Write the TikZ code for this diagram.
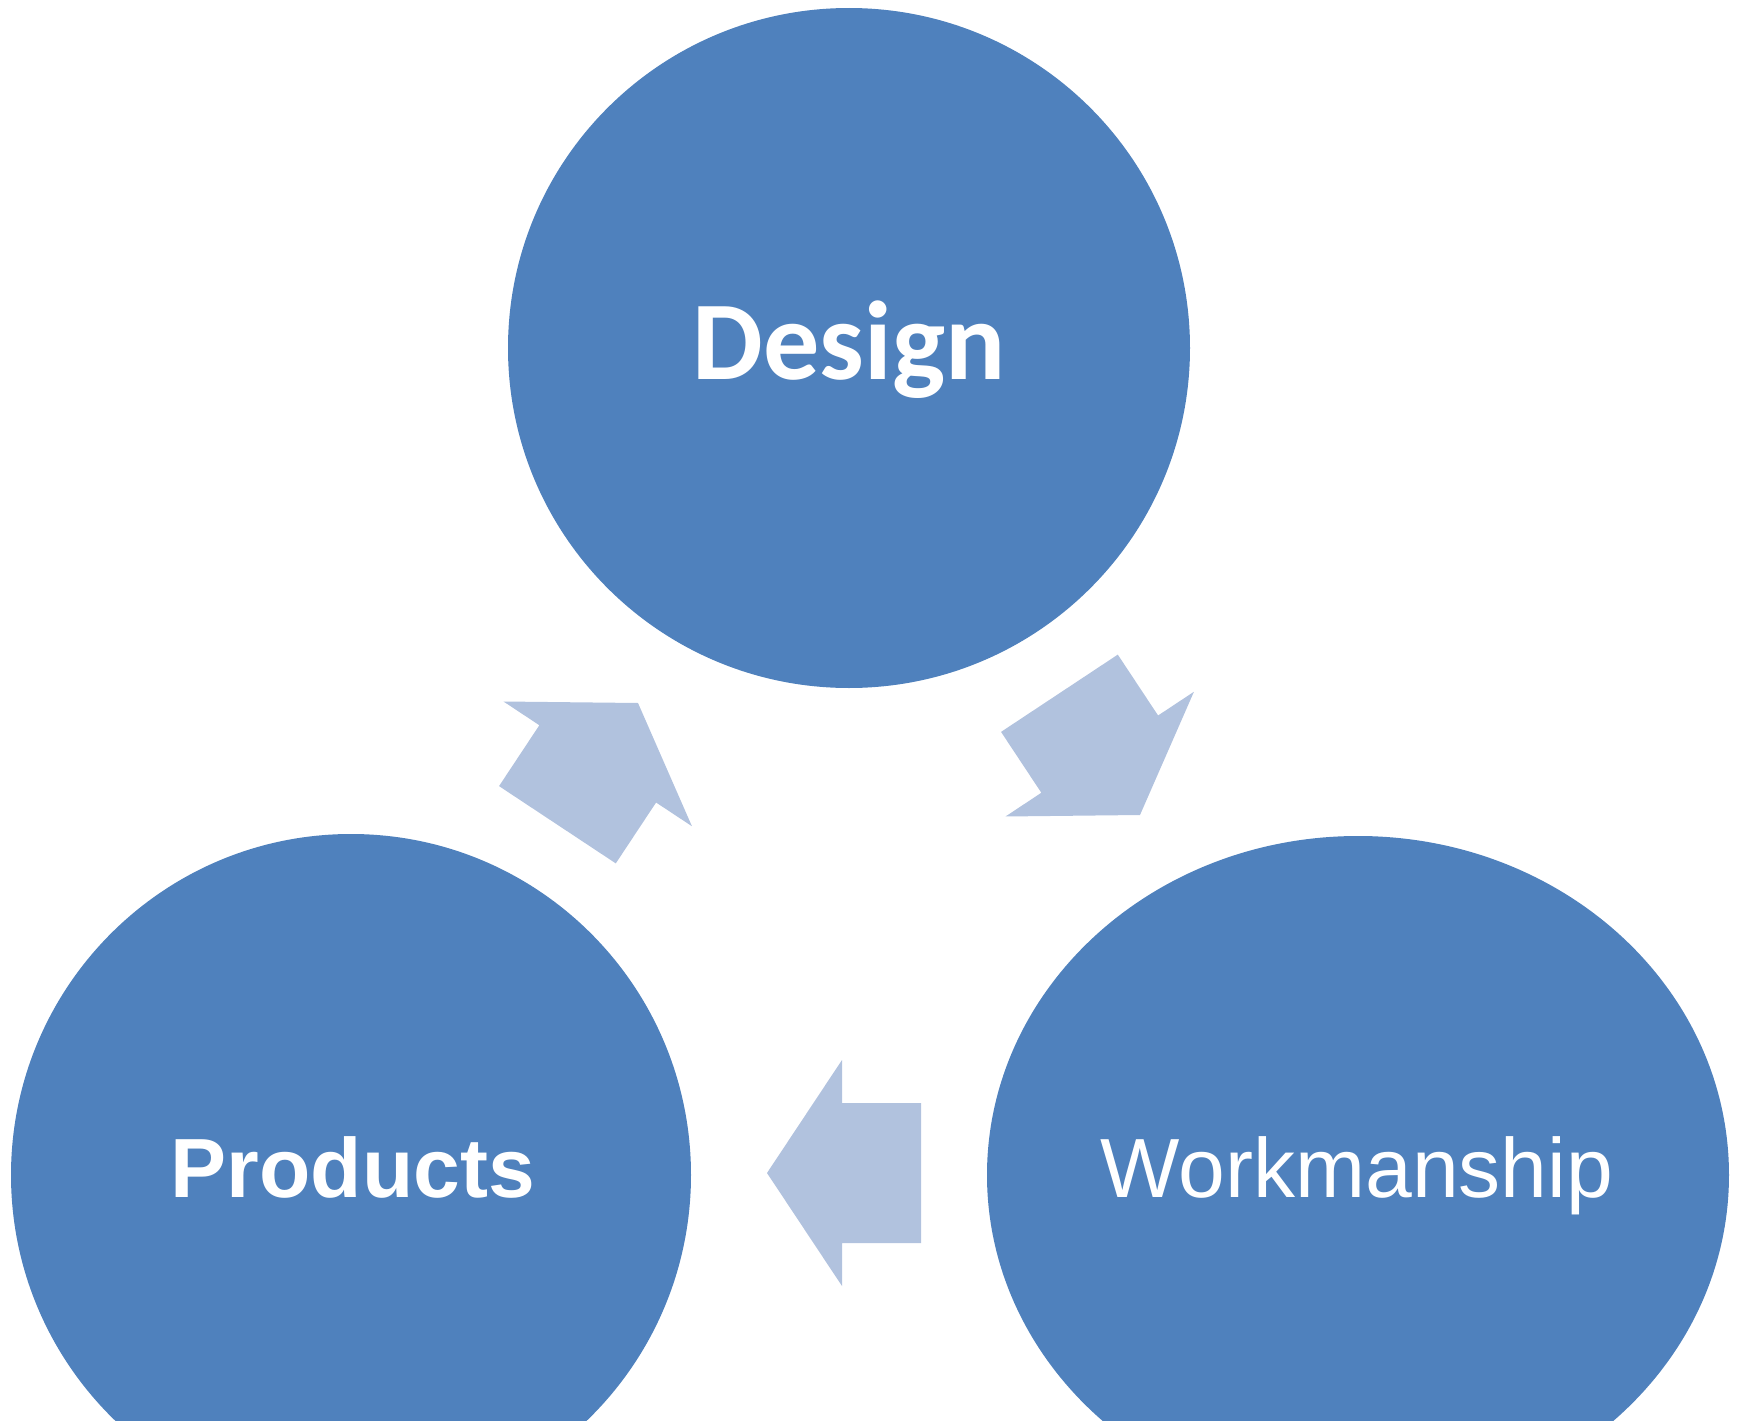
\documentclass[tikz,border=0pt]{standalone}
\usepackage{fontspec}
\setmainfont{Liberation Sans}
\newfontfamily\carlitofont{Carlito}
\definecolor{circblue}{HTML}{4F81BD}
\definecolor{arrblue}{HTML}{B1C2DE}
\tikzset{
  disc/.style={fill=circblue},
  blockarrow/.style={fill=arrblue},
  lbl/.style={text=white, inner sep=0pt, anchor=base},
}
\begin{document}
\begin{tikzpicture}[x=0.01cm,y=-0.01cm]
\useasboundingbox (0,0) rectangle (1741,1421);
\clip (0,0) rectangle (1741,1421);
% circles
\fill[disc] (849,348) ellipse [x radius=341, y radius=340];
\fill[disc] (351,1175) ellipse [x radius=340, y radius=341];
\fill[disc] (1358,1175) ellipse [x radius=371, y radius=339];
% labels
\node[lbl] (design) at (849,379) {\carlitofont\bfseries\fontsize{31.9pt}{36pt}\selectfont Design};
\node[lbl] (products) at (353,1197) {\bfseries\fontsize{23.9pt}{28pt}\selectfont Products};
\node[lbl] (work) at (1357,1197) {\fontsize{23.9pt}{28pt}\selectfont Workmanship};
% block arrows (tip at local origin, pointing along +u)
\begin{scope}[shift={(1140,815)}, rotate=-56.5]
  \fill[blockarrow] (-146,-70) -- (-73,-70) -- (-73,-113) -- (0,0) -- (-73,113) -- (-73,70) -- (-146,70) -- cycle;
\end{scope}
\begin{scope}[shift={(767,1173)}, rotate=180]
  \fill[blockarrow] (-154,-70) -- (-75,-70) -- (-75,-113) -- (0,0) -- (-75,113) -- (-75,70) -- (-154,70) -- cycle;
\end{scope}
\begin{scope}[shift={(638,703)}, rotate=56.5]
  \fill[blockarrow] (-146,-70) -- (-73,-70) -- (-73,-113) -- (0,0) -- (-73,113) -- (-73,70) -- (-146,70) -- cycle;
\end{scope}
\end{tikzpicture}
\end{document}
